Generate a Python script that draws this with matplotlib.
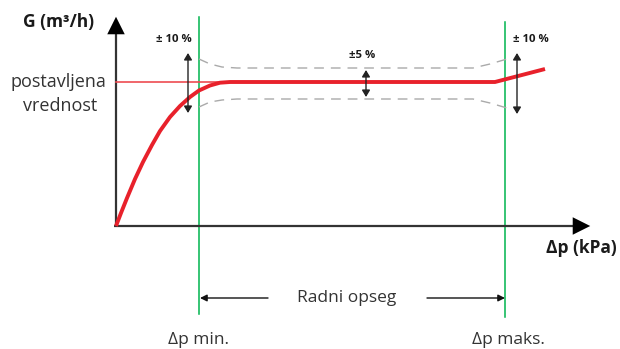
import matplotlib
matplotlib.use("Agg")
import matplotlib.pyplot as plt

plt.rcParams['font.family'] = ['Open Sans', 'DejaVu Sans']

# ---- data (units: arbitrary, origin at axis corner) ----
curve_dp = [0, 5, 11, 19, 27, 36, 44, 54, 64, 74, 83, 94, 104, 114, 379, 429]
curve_g = [0, 13, 28, 47, 64, 81, 95, 109, 120, 129, 135.5, 140.5, 143.3, 144, 144, 157]

upper_dp = [83, 94, 106, 121, 357, 374, 391]
upper_g = [167, 162, 159, 158, 158, 162, 167]
lower_dp = [83, 94, 106, 121, 357, 374, 391]
lower_g = [119, 124, 126, 127, 127, 123, 118]

setpoint_g = 144
setpoint_end = 106
dp_min = 83
dp_max = 389

tol_x = [72, 250, 401]
tol_lo = [113, 129, 112]
tol_hi = [173, 156, 173]
tol_labels = ["± 10 %", "±5 %", "± 10 %"]
tol_label_x = [58, 246, 415]
tol_label_y = [186, 171, 186]

RED = '#e8212b'
GREEN = '#00b44e'
DARK = '#333333'

fig = plt.figure(figsize=(6.2, 3.49), dpi=100)
ax = fig.add_axes([0, 0, 1, 1])
ax.set_xlim(-116, 504)
ax.set_ylim(-123, 226)
ax.axis('off')

# axes arrows
ax.plot([-2, 466], [0, 0], color=DARK, lw=1.6, solid_capstyle='butt', zorder=3)
ax.plot([0, 0], [-1, 200], color=DARK, lw=1.6, solid_capstyle='butt', zorder=3)
ax.annotate('', xy=(477, 0), xytext=(464, 0),
            arrowprops=dict(arrowstyle='-|>,head_length=0.9,head_width=0.45',
                            color='black', lw=0, mutation_scale=14), zorder=4)
ax.annotate('', xy=(0, 212), xytext=(0, 198),
            arrowprops=dict(arrowstyle='-|>,head_length=0.9,head_width=0.45',
                            color='black', lw=0, mutation_scale=14), zorder=4)

# green limit lines
ax.plot([dp_min, dp_min], [-88, 209], color=GREEN, lw=1.1, zorder=2)
ax.plot([dp_max, dp_max], [-91, 204], color=GREEN, lw=1.1, zorder=2)

# tolerance band
ax.plot(upper_dp, upper_g, color='#aaaaaa', lw=1.0, dashes=(7, 5), zorder=2)
ax.plot(lower_dp, lower_g, color='#aaaaaa', lw=1.0, dashes=(7, 5), zorder=2)

# setpoint line
ax.plot([0, setpoint_end], [setpoint_g, setpoint_g], color='#ee4b52', lw=1.2, zorder=3)

# curve
ax.plot(curve_dp, curve_g, color=RED, lw=2.8, solid_capstyle='butt',
        solid_joinstyle='round', zorder=5)

# tolerance arrows and labels
for x, lo, hi, lab, lx, ly in zip(tol_x, tol_lo, tol_hi, tol_labels, tol_label_x, tol_label_y):
    ax.annotate('', xy=(x, hi), xytext=(x, lo),
                arrowprops=dict(arrowstyle='<|-|>,head_length=0.5,head_width=0.3',
                                color='#222222', lw=1.0, mutation_scale=8,
                                shrinkA=0, shrinkB=0), zorder=6)
    ax.text(lx, ly, lab, ha='center', va='center', fontsize=8.2,
            fontweight='bold', color='#1a1a1a')

# working range arrows
ax.annotate('', xy=(dp_min + 1, -72), xytext=(152, -72),
            arrowprops=dict(arrowstyle='-|>,head_length=0.5,head_width=0.25',
                            color='#111111', lw=1.0, mutation_scale=8,
                            shrinkA=0, shrinkB=0))
ax.annotate('', xy=(dp_max, -72), xytext=(311, -72),
            arrowprops=dict(arrowstyle='-|>,head_length=0.5,head_width=0.25',
                            color='#111111', lw=1.0, mutation_scale=8,
                            shrinkA=0, shrinkB=0))
ax.text(231, -72, 'Radni opseg', ha='center', va='center', fontsize=12.5,
        color=DARK)

# labels
ax.text(-57, 204, 'G (m³/h)', ha='center', va='center', fontsize=12.5,
        fontweight='bold', color='#1a1a1a')
ax.text(501, -22, 'Δp (kPa)', ha='right', va='center', fontsize=12.5,
        fontweight='bold', color='#1a1a1a')
ax.text(-58, 144, 'postavljena', ha='center', va='center', fontsize=13,
        color=DARK)
ax.text(-56, 120, 'vrednost', ha='center', va='center', fontsize=13,
        color=DARK)
ax.text(dp_min - 1, -114, 'Δp min.', ha='center', va='center', fontsize=12.5,
        color=DARK)
ax.text(dp_max + 3, -114, 'Δp maks.', ha='center', va='center', fontsize=12.5,
        color=DARK)

fig.savefig('out.png', dpi=100)
